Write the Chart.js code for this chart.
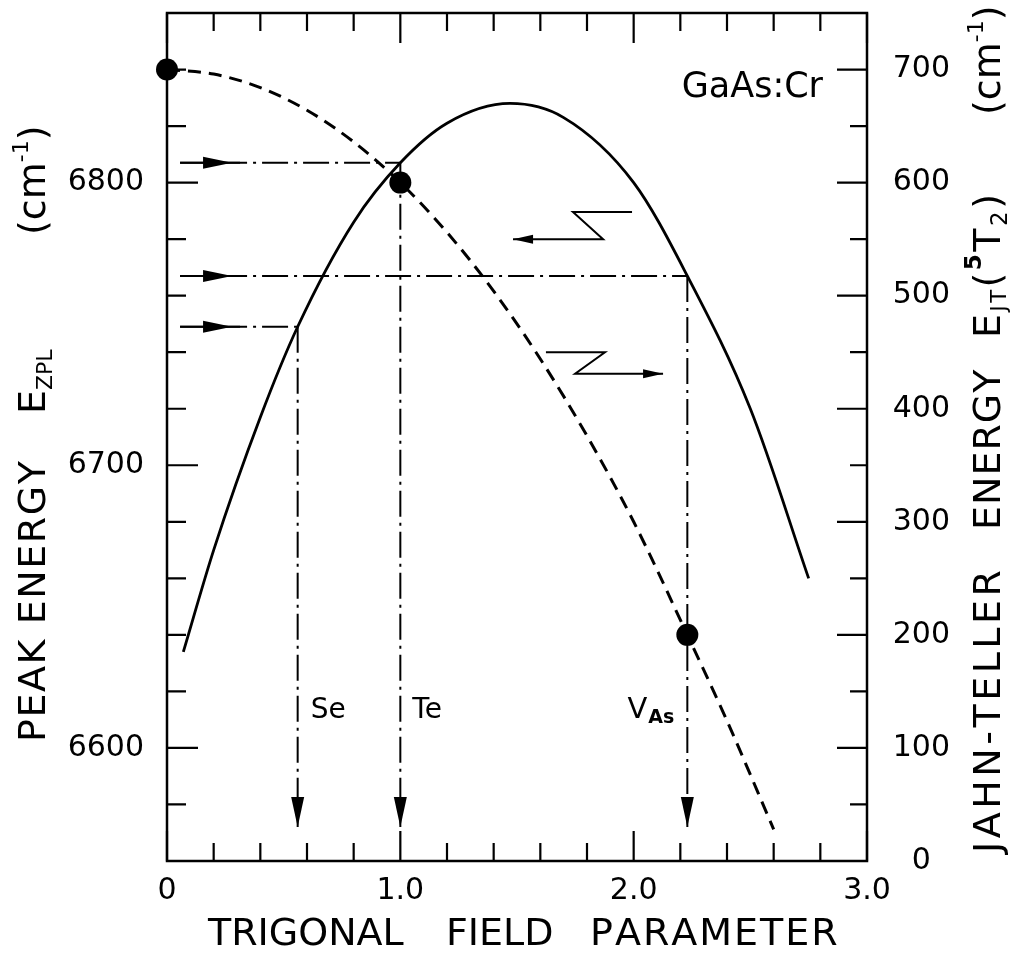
<!DOCTYPE html>
<html>
<head>
<meta charset="utf-8">
<script src="https://cdn.jsdelivr.net/npm/chart.js@4.4.1/dist/chart.umd.min.js"></script>
<style>
  html, body { margin: 0; padding: 0; background: #fff; }
  #wrap { width: 1013px; height: 958px; position: relative; }
</style>
</head>
<body>
<div id="wrap"><canvas id="c" width="1013" height="958"></canvas></div>
<script>
// Zero-phonon-line peak energy E_ZPL (left axis, cm^-1) vs trigonal field parameter
const zplParam  = [0.07, 0.2, 0.4, 0.56, 0.8, 1.0, 1.2, 1.47, 1.7, 2.0, 2.23, 2.5, 2.75];
const zplEnergy = [6634, 6670, 6717, 6749, 6786, 6807, 6821, 6828, 6823, 6800, 6767, 6720, 6660];

// Jahn-Teller energy E_JT(5T2) (right axis, cm^-1) vs trigonal field parameter
const jtParam  = [0, 0.2, 0.4, 0.6, 0.8, 1.0, 1.2, 1.4, 1.6, 1.8, 2.0, 2.23, 2.4, 2.6];
const jtEnergy = [700, 696, 684, 664, 636, 600, 556, 504, 444, 376, 300, 200, 124, 28];

// Filled markers on the Jahn-Teller curve
const markerParam  = [0, 1.0, 2.23];
const markerEnergy = [700, 600, 200];

// Defect assignments: trigonal field parameter and observed ZPL energy
const defectNames = ['Se', 'Te', 'VAs'];
const defectParam = [0.56, 1.0, 2.23];
const defectZpl   = [6749, 6807, 6767];

// Labelled ticks
const xMajor = [0, 1, 2, 3];
const xTickLabels = ['0', '1.0', '2.0', '3.0'];
const leftMajor = [6600, 6700, 6800];
const rightMajor = [0, 100, 200, 300, 400, 500, 600, 700];

const ink = '#000';
const FONT = '"DejaVu Sans", sans-serif';

// Guide lines: start of the horizontal arrows and end of the vertical arrows
const guideStartX = 0.056;
const guideEndY = 6572;

const near = (a, b) => Math.abs(a - b) < 1e-6;

const datasets = [
  {
    label: 'markers', yAxisID: 'y2', showLine: false, clip: false,
    data: markerParam.map((x, i) => ({ x, y: markerEnergy[i] })),
    pointRadius: 11, pointBackgroundColor: ink, pointBorderWidth: 0
  },
  {
    label: 'E_ZPL', yAxisID: 'y',
    data: zplParam.map((x, i) => ({ x, y: zplEnergy[i] })),
    borderColor: ink, borderWidth: 2.8, pointRadius: 0,
    cubicInterpolationMode: 'monotone'
  },
  {
    label: 'E_JT', yAxisID: 'y2',
    data: jtParam.map((x, i) => ({ x, y: jtEnergy[i] })),
    borderColor: ink, borderWidth: 3, pointRadius: 0,
    borderDash: [13, 8], cubicInterpolationMode: 'monotone'
  }
];

// dash-dot guides from the axis to each defect and down to the field axis
defectNames.forEach((name, i) => {
  datasets.push({
    label: name + ' level', yAxisID: 'y',
    data: [{ x: guideStartX, y: defectZpl[i] }, { x: defectParam[i], y: defectZpl[i] }],
    borderColor: ink, borderWidth: 2, pointRadius: 0, borderDash: [26, 6, 3, 6]
  });
  datasets.push({
    label: name + ' field', yAxisID: 'y',
    data: [{ x: defectParam[i], y: defectZpl[i] }, { x: defectParam[i], y: guideEndY }],
    borderColor: ink, borderWidth: 2, pointRadius: 0, borderDash: [26, 6, 3, 6]
  });
});

function arrowHead(ctx, tx, ty, dx, dy, len, hw) {
  const bx = tx - dx * len, by = ty - dy * len;
  ctx.beginPath();
  ctx.moveTo(tx, ty);
  ctx.lineTo(bx - dy * hw, by + dx * hw);
  ctx.lineTo(bx + dy * hw, by - dx * hw);
  ctx.closePath();
  ctx.fill();
}

// text made of runs with individual sizes and baseline shifts, drawn along a rotated baseline
function drawRuns(ctx, x, y, angle, runs, spacing) {
  ctx.save();
  ctx.translate(x, y);
  ctx.rotate(angle);
  ctx.textAlign = 'left';
  ctx.textBaseline = 'alphabetic';
  let cur = 0;
  runs.forEach(r => {
    ctx.font = (r.bold ? 'bold ' : '') + r.size + 'px ' + FONT;
    for (const ch of r.t) {
      ctx.fillText(ch, cur, r.dy || 0);
      cur += ctx.measureText(ch).width + (spacing || 0);
    }
    cur += (r.gap || 0);
  });
  ctx.restore();
}

const decor = {
  id: 'decor',
  afterDatasetsDraw(chart) {
    const { ctx, chartArea: a } = chart;
    const { x, y, y2 } = chart.scales;
    ctx.save();
    ctx.strokeStyle = ink;
    ctx.fillStyle = ink;
    ctx.setLineDash([]);

    // frame
    ctx.lineWidth = 2.5;
    ctx.strokeRect(a.left, a.top, a.right - a.left, a.bottom - a.top);

    // inward tick marks on all four sides
    ctx.lineWidth = 2.2;
    ctx.beginPath();
    x.ticks.forEach(t => {
      const px = x.getPixelForValue(t.value);
      const len = xMajor.some(m => near(m, t.value)) ? 30 : 18;
      ctx.moveTo(px, a.bottom); ctx.lineTo(px, a.bottom - len);
      ctx.moveTo(px, a.top); ctx.lineTo(px, a.top + len);
    });
    y.ticks.forEach(t => {
      const py = y.getPixelForValue(t.value);
      const len = leftMajor.some(m => near(m, t.value)) ? 31 : 19;
      ctx.moveTo(a.left, py); ctx.lineTo(a.left + len, py);
    });
    y2.ticks.forEach(t => {
      const py = y2.getPixelForValue(t.value);
      const len = rightMajor.some(m => near(m, t.value)) ? 30 : 17;
      ctx.moveTo(a.right, py); ctx.lineTo(a.right - len, py);
    });
    ctx.stroke();

    // arrowheads on the guide lines
    const x0 = x.getPixelForValue(guideStartX);
    defectNames.forEach((name, i) => {
      const py = y.getPixelForValue(defectZpl[i]);
      ctx.lineWidth = 2;
      ctx.beginPath(); ctx.moveTo(x0, py); ctx.lineTo(x0 + 60, py); ctx.stroke();
      arrowHead(ctx, x0 + 52, py, 1, 0, 29, 6);
      const px = x.getPixelForValue(defectParam[i]);
      arrowHead(ctx, px, y.getPixelForValue(guideEndY), 0, 1, 30, 6.5);
    });

    // zig-zag arrows pointing to the axis each curve belongs to
    const bolts = [
      [[1.993, 574], [1.740, 574], [1.869, 550], [1.483, 550]],
      [[1.624, 450], [1.877, 450], [1.749, 431], [2.126, 431]]
    ];
    ctx.lineWidth = 2;
    bolts.forEach(b => {
      const pts = b.map(p => [x.getPixelForValue(p[0]), y2.getPixelForValue(p[1])]);
      ctx.beginPath();
      pts.forEach((p, k) => k ? ctx.lineTo(p[0], p[1]) : ctx.moveTo(p[0], p[1]));
      ctx.stroke();
      const e = pts[pts.length - 1], s = pts[pts.length - 2];
      const dx = Math.sign(e[0] - s[0]);
      arrowHead(ctx, e[0], e[1], dx, 0, 20, 4.5);
    });

    // defect labels
    const labelY = y.getPixelForValue(6610.5);
    ctx.textBaseline = 'alphabetic';
    ctx.font = '28px ' + FONT;
    ctx.textAlign = 'left';
    ctx.fillText('Se', x.getPixelForValue(defectParam[0]) + 13, labelY);
    ctx.fillText('Te', x.getPixelForValue(defectParam[1]) + 12, labelY);
    const vx = x.getPixelForValue(defectParam[2]) - 13;
    ctx.font = 'bold 19px ' + FONT;
    const asW = ctx.measureText('As').width;
    ctx.fillText('As', vx - asW, labelY + 5);
    ctx.font = '29px ' + FONT;
    ctx.textAlign = 'right';
    ctx.fillText('V', vx - asW - 1, labelY);

    // sample label
    ctx.font = '35px ' + FONT;
    ctx.textAlign = 'right';
    ctx.fillText('GaAs:Cr', a.right - 44, 97);

    // axis titles
    const xt = [['TRIGONAL', 208], ['FIELD', 446], ['PARAMETER', 590]];
    xt.forEach((w, k) => {
      drawRuns(ctx, w[1], 945, 0, [{ t: w[0], size: 38 }], k === 2 ? 2 : 0);
    });

    const up = -Math.PI / 2;
    drawRuns(ctx, 45, 742, up, [{ t: 'PEAK', size: 38, gap: 14 }, { t: 'ENERGY', size: 38 }], 1.5);
    drawRuns(ctx, 45, 414, up, [{ t: 'E', size: 38 }, { t: 'ZPL', size: 22, dy: 7 }]);
    drawRuns(ctx, 45, 235, up, [{ t: '(cm', size: 38 }, { t: '-1', size: 22, dy: -17 }, { t: ')', size: 38 }]);

    drawRuns(ctx, 1000, 853, up, [{ t: 'JAHN-TELLER', size: 38 }], 3.5);
    drawRuns(ctx, 1000, 530, up, [{ t: 'ENERGY', size: 38 }], 1);
    drawRuns(ctx, 1000, 338, up, [
      { t: 'E', size: 38 }, { t: 'JT', size: 21, dy: 6 }, { t: '(', size: 38 },
      { t: '5', size: 23, dy: -19, bold: true }, { t: 'T', size: 38 },
      { t: '2', size: 23, dy: 7 }, { t: ')', size: 38 }
    ], 2.5);
    drawRuns(ctx, 1000, 115, up, [{ t: '(cm', size: 38 }, { t: '-1', size: 22, dy: -17 }, { t: ')', size: 38 }]);

    ctx.restore();
  }
};

const tickFont = { family: FONT, size: 30 };
const noPadY = s => { s.paddingTop = 0; s.paddingBottom = 0; };

new Chart(document.getElementById('c'), {
  type: 'line',
  data: { datasets },
  options: {
    responsive: false,
    animation: false,
    devicePixelRatio: 1,
    layout: { padding: { left: 0, right: 63, top: 13, bottom: 0 } },
    plugins: { legend: { display: false }, tooltip: { enabled: false } },
    scales: {
      x: {
        type: 'linear', position: 'bottom', min: 0, max: 3,
        grid: { display: false, drawTicks: false }, border: { display: false },
        ticks: {
          stepSize: 0.2, autoSkip: false, maxRotation: 0, padding: 12,
          color: ink, font: tickFont,
          callback: v => { const k = xMajor.findIndex(m => near(m, v)); return k >= 0 ? xTickLabels[k] : ''; }
        },
        afterFit: s => { s.height = 97; s.paddingLeft = 0; s.paddingRight = 0; }
      },
      y: {
        type: 'linear', position: 'left', min: 6560, max: 6860,
        grid: { display: false, drawTicks: false }, border: { display: false },
        ticks: {
          stepSize: 20, autoSkip: false, padding: 23, crossAlign: 'near',
          color: ink, font: tickFont,
          callback: v => leftMajor.some(m => near(m, v)) ? String(v) : ''
        },
        afterFit: s => { s.width = 167; noPadY(s); }
      },
      y2: {
        type: 'linear', position: 'right', min: 0, max: 750,
        grid: { display: false, drawTicks: false }, border: { display: false },
        ticks: {
          stepSize: 50, autoSkip: false, padding: 20, crossAlign: 'far',
          color: ink, font: tickFont,
          callback: v => {
            if (!rightMajor.some(m => near(m, v))) return '';
            return v === 0 ? '0\u2007' : String(v);
          }
        },
        afterFit: s => { s.width = 83; noPadY(s); }
      }
    }
  },
  plugins: [decor]
});
</script>
</body>
</html>
